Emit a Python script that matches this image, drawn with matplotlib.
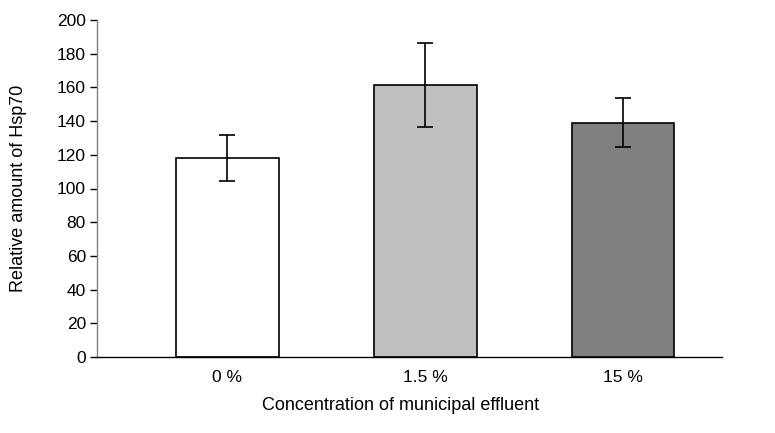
import matplotlib
matplotlib.use("Agg")
import matplotlib.pyplot as plt
import numpy as np

plt.rcParams['font.family'] = ['Liberation Sans', 'DejaVu Sans']

# data
categories = ["0 %", "1.5 %", "15 %"]
hsp70 = [118.0, 161.5, 139.0]
errors = [13.5, 25.0, 14.5]
bar_colors = ["#FFFFFF", "#C0C0C0", "#808080"]

fig = plt.figure(figsize=(7.75, 4.33), dpi=100)
# plot area: y axis at x=97, x axis ends near x=722, y from 20 (top) to 357 (zero)
ax = fig.add_axes([97 / 775, 1 - 357 / 433, 625 / 775, 337 / 433])

x = np.arange(len(categories))
ax.bar(x, hsp70, width=0.52, color=bar_colors, edgecolor="black", linewidth=1.2, zorder=2)
ax.errorbar(x, hsp70, yerr=errors, fmt="none", ecolor="black", elinewidth=1.2,
            capsize=6, capthick=1.2, zorder=3)

ax.set_xlim(-0.657, 2.5)
ax.set_ylim(0, 200)
ax.set_yticks(np.arange(0, 201, 20))
ax.set_xticks(x)
ax.set_xticklabels(categories)

for s in ["top", "right"]:
    ax.spines[s].set_visible(False)
ax.spines["left"].set_color("#808080")
ax.spines["left"].set_linewidth(1.0)
ax.spines["bottom"].set_color("black")
ax.spines["bottom"].set_linewidth(1.0)

ax.tick_params(axis="y", direction="out", length=5, width=1, color="black",
               labelsize=12.5, pad=3)
ax.tick_params(axis="x", length=0, labelsize=12.5, pad=9)

ax.set_ylabel("Relative amount of Hsp70", fontsize=13)
ax.yaxis.set_label_coords(-0.112, 0.5)
ax.set_xlabel("Concentration of municipal effluent", fontsize=13)
ax.xaxis.set_label_coords(0.485, -0.118)

fig.savefig("out.png", dpi=100)
